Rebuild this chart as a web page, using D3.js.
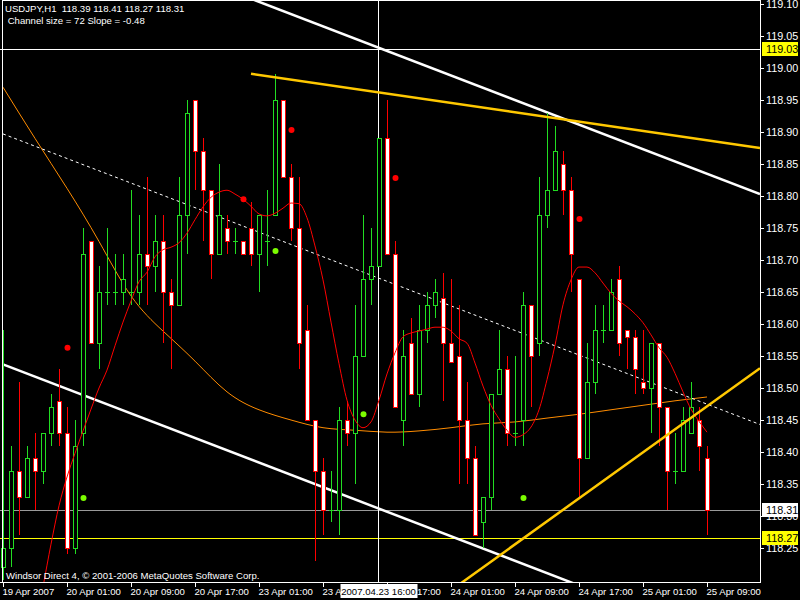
<!DOCTYPE html>
<html><head><meta charset="utf-8">
<script src="https://cdn.jsdelivr.net/npm/d3@7"></script>
<style>html,body{margin:0;padding:0;background:#000;}svg{display:block;}</style>
</head><body>
<svg id="c" width="800" height="600"></svg>
<script>
// ---- data (USDJPY H1) ----
const opens  = [118.22,118.25,118.37,118.33,118.39,118.37,118.43,118.48,118.43,118.25,118.43,118.73,118.57,118.65,118.65,118.65,118.65,118.65,118.71,118.69,118.73,118.65,118.63,118.77,118.95,118.87,118.81,118.71,118.75,118.73,118.73,118.75,118.71,118.73,118.77,118.95,118.83,118.75,118.59,118.45,118.37,118.31,118.31,118.45,118.43,118.55,118.67,118.69,118.89,118.71,118.45,118.57,118.49,118.59,118.63,118.64,118.57,118.55,118.45,118.39,118.29,118.33,118.49,118.53,118.43,118.45,118.63,118.57,118.77,118.81,118.85,118.81,118.67,118.39,118.51,118.59,118.59,118.67,118.59,118.58,118.51,118.50,118.57,118.47,118.37,118.37,118.43,118.45,118.39];
const highs  = [118.59,118.41,118.51,118.41,118.43,118.43,118.49,118.53,118.47,118.45,118.75,118.73,118.69,118.75,118.71,118.71,118.81,118.77,118.83,118.77,118.77,118.67,118.83,118.95,118.95,118.89,118.81,118.85,118.77,118.75,118.73,118.79,118.77,118.81,118.99,118.95,118.85,118.83,118.63,118.45,118.39,118.37,118.47,118.48,118.63,118.77,118.75,118.89,118.95,118.73,118.59,118.61,118.63,118.65,118.67,118.68,118.67,118.63,118.51,118.41,118.33,118.49,118.59,118.55,118.55,118.65,118.63,118.83,118.93,118.91,118.87,118.83,118.67,118.57,118.63,118.63,118.67,118.69,118.59,118.59,118.59,118.57,118.57,118.47,118.43,118.47,118.51,118.47,118.41];
const lows   = [118.20,118.22,118.27,118.33,118.31,118.35,118.41,118.41,118.24,118.24,118.41,118.57,118.53,118.63,118.63,118.63,118.63,118.63,118.63,118.65,118.57,118.53,118.63,118.71,118.81,118.73,118.67,118.71,118.71,118.71,118.71,118.69,118.65,118.69,118.77,118.83,118.73,118.53,118.45,118.23,118.27,118.29,118.27,118.41,118.35,118.55,118.63,118.69,118.71,118.47,118.41,118.49,118.47,118.57,118.61,118.48,118.54,118.35,118.35,118.27,118.25,118.31,118.49,118.41,118.41,118.41,118.47,118.55,118.75,118.81,118.77,118.65,118.33,118.39,118.49,118.57,118.59,118.55,118.53,118.49,118.49,118.43,118.41,118.31,118.35,118.37,118.43,118.37,118.27];
const closes = [118.25,118.37,118.33,118.39,118.37,118.43,118.47,118.43,118.25,118.41,118.71,118.57,118.65,118.65,118.65,118.67,118.65,118.71,118.69,118.73,118.65,118.63,118.77,118.93,118.87,118.81,118.71,118.77,118.73,118.73,118.71,118.71,118.77,118.73,118.95,118.83,118.75,118.57,118.45,118.37,118.31,118.31,118.45,118.43,118.55,118.67,118.69,118.89,118.71,118.47,118.55,118.49,118.59,118.63,118.65,118.57,118.54,118.45,118.39,118.27,118.33,118.49,118.53,118.43,118.43,118.63,118.55,118.77,118.81,118.87,118.81,118.71,118.39,118.51,118.59,118.59,118.65,118.57,118.58,118.53,118.50,118.57,118.47,118.37,118.37,118.45,118.47,118.41,118.31];

// smoothed red indicator, one value per bar starting at bar 5
const redStart = 5;
const redLine = [118.189,118.256,118.316,118.361,118.398,118.433,118.467,118.500,118.528,118.566,118.603,118.636,118.666,118.681,118.705,118.716,118.720,118.727,118.742,118.763,118.783,118.798,118.806,118.809,118.803,118.795,118.784,118.772,118.769,118.773,118.781,118.789,118.788,118.766,118.722,118.669,118.603,118.538,118.481,118.450,118.438,118.447,118.481,118.522,118.555,118.580,118.586,118.589,118.592,118.595,118.595,118.589,118.577,118.570,118.539,118.503,118.473,118.452,118.434,118.423,118.427,118.439,118.466,118.513,118.567,118.630,118.669,118.689,118.689,118.680,118.664,118.648,118.636,118.627,118.616,118.602,118.583,118.563,118.548,118.523,118.494,118.467,118.448,118.431];

// orange regression curve, read every 4 bars
const orangeBars = [0,4,8,12,16,20,24,28,32,36,40,44,48,52,56,60,64,68,72,76,80,84,88];
const orangeVals = [118.970,118.890,118.812,118.729,118.644,118.589,118.542,118.494,118.466,118.450,118.438,118.434,118.431,118.433,118.438,118.444,118.447,118.453,118.459,118.466,118.473,118.480,118.486];

// regression channel (mid line endpoints, half width)
const channelBars = [0, 94.625];
const channelMid  = [118.897, 118.443];
const channelHalf = 0.36;

// trend lines (gold)
const trendUpBars = [31, 94.625];
const trendUpVals = [118.991, 118.875];
const trendLoBars = [61.25, 94.625];
const trendLoVals = [118.231, 118.531];

// fractal-like dots
const redDotBars = [8, 30, 36, 49, 72];
const redDotVals = [118.563, 118.795, 118.903, 118.828, 118.764];
const greenDotBars = [10, 34, 45, 65];
const greenDotVals = [118.328, 118.714, 118.459, 118.328];

// price axis
const priceTicks = [119.10,119.05,119.00,118.95,118.90,118.85,118.80,118.75,118.70,118.65,118.60,118.55,118.50,118.45,118.40,118.35,118.30,118.25];
// time axis
const timeTickBars = [0,8,16,24,32,40,48,56,64,72,80,88];
const timeLabels = ["19 Apr 2007","20 Apr 01:00","20 Apr 09:00","20 Apr 17:00","23 Apr 01:00","23 Apr 09:00","23 Apr 17:00","24 Apr 01:00","24 Apr 09:00","24 Apr 17:00","25 Apr 01:00","25 Apr 09:00"];

const bidPrice = 118.31;
const hLinePrice = 118.265, hLineLabel = "118.27";
const crossPrice = 119.03, crossBar = 46.875, crossLabel = "2007.04.23 16:00";
const titleText = "USDJPY,H1  118.39 118.41 118.27 118.31";
const subText = " Channel size = 72 Slope = -0.48";
const footText = "Windsor Direct 4, \u00A9 2001-2006 MetaQuotes Software Corp.";

// ---- drawing ----
const svg = d3.select("#c");
const PR = 760, PB = 582;
const FONT = "'Liberation Sans', Arial, sans-serif";
const x = d3.scaleLinear().domain([0, 94.625]).range([3, PR]);
const y = d3.scaleLinear().domain([118.1969, 119.10625]).range([PB, 0]);

svg.append("rect").attr("width",800).attr("height",600).attr("fill","#000");
svg.append("defs").append("clipPath").attr("id","clip")
  .append("rect").attr("x",0).attr("y",0).attr("width",PR).attr("height",PB);
const plot = svg.append("g").attr("clip-path","url(#clip)");

// horizontal lines
plot.append("line").attr("x1",0).attr("x2",PR).attr("y1",Math.round(y(bidPrice))+0.5).attr("y2",Math.round(y(bidPrice))+0.5)
  .attr("stroke","#9a9a9a").attr("stroke-width",1);
plot.append("line").attr("x1",0).attr("x2",PR).attr("y1",Math.round(y(hLinePrice))+0.5).attr("y2",Math.round(y(hLinePrice))+0.5)
  .attr("stroke","#ffff00").attr("stroke-width",1);

// orange curve
const orangeData = orangeBars.map((b,i)=>[b, orangeVals[i]]);
plot.append("path").datum(orangeData)
  .attr("d", d3.line().x(d=>x(d[0])).y(d=>y(d[1])).curve(d3.curveNatural))
  .attr("fill","none").attr("stroke","#ff8c00").attr("stroke-width",1);

// channel
const chLine = d3.line().x(d=>x(d[0])).y(d=>y(d[1]));
const mid = channelBars.map((b,i)=>[b, channelMid[i]]);
plot.append("path").datum(mid).attr("d",chLine).attr("fill","none")
  .attr("stroke","#fff").attr("stroke-width",1).attr("stroke-dasharray","3,3");
[channelHalf, -channelHalf].forEach(off=>{
  plot.append("path").datum(mid.map(d=>[d[0], d[1]+off])).attr("d",chLine)
    .attr("fill","none").attr("stroke","#fff").attr("stroke-width",2.5);
});

// crosshair
const cx0 = Math.round(x(crossBar))+0.5, cy0 = Math.round(y(crossPrice))+0.5;
plot.append("line").attr("x1",cx0).attr("x2",cx0).attr("y1",0).attr("y2",PB).attr("stroke","#fff").attr("stroke-width",1);
plot.append("line").attr("x1",0).attr("x2",PR).attr("y1",cy0).attr("y2",cy0).attr("stroke","#fff").attr("stroke-width",1);

// candles
const BULL = "#22dd22", BEAR = "#ff0000";
const bars = opens.map((o,i)=>({i, o, h:highs[i], l:lows[i], c:closes[i]}));
const cg = plot.append("g").attr("shape-rendering","crispEdges");
bars.forEach(d=>{
  const cx = Math.round(x(d.i));
  const bull = d.c >= d.o;
  const col = bull ? BULL : BEAR;
  cg.append("line").attr("x1",cx+0.5).attr("x2",cx+0.5)
    .attr("y1",Math.round(y(d.h))).attr("y2",Math.round(y(d.l))).attr("stroke",col).attr("stroke-width",1);
  const yt = Math.round(y(Math.max(d.o,d.c))), yb = Math.round(y(Math.min(d.o,d.c)));
  if (yb - yt < 1) {
    cg.append("line").attr("x1",cx-2).attr("x2",cx+3).attr("y1",yt+0.5).attr("y2",yt+0.5).attr("stroke",col);
  } else {
    cg.append("rect").attr("x",cx-1.5).attr("y",yt+0.5).attr("width",4).attr("height",yb-yt)
      .attr("fill", bull ? "#000" : "#fff").attr("stroke",col).attr("stroke-width",1);
  }
});

// red indicator
const redData = redLine.map((v,k)=>[redStart+k, v]);
plot.append("path").datum(redData)
  .attr("d", d3.line().x(d=>x(d[0])).y(d=>y(d[1])).curve(d3.curveMonotoneX))
  .attr("fill","none").attr("stroke","#ff0000").attr("stroke-width",1);

// trend lines
[[trendUpBars,trendUpVals],[trendLoBars,trendLoVals]].forEach(([bs,vs])=>{
  // extend to plot edges along the same line
  const s = (vs[1]-vs[0])/(bs[1]-bs[0]);
  const pts = [[bs[0],vs[0]],[bs[1],vs[1]]];
  if (bs === trendLoBars) pts.unshift([bs[0]-5, vs[0]-5*s]);
  plot.append("path").datum(pts).attr("d",chLine).attr("fill","none")
    .attr("stroke","#ffc800").attr("stroke-width",2.5);
});

// dots
redDotBars.forEach((b,i)=>plot.append("circle").attr("cx",x(b)+0.5).attr("cy",y(redDotVals[i])).attr("r",3).attr("fill","#ff0000"));
greenDotBars.forEach((b,i)=>plot.append("circle").attr("cx",x(b)+0.5).attr("cy",y(greenDotVals[i])).attr("r",3).attr("fill","#7cfc00"));

// frame / axes
const ax = svg.append("g").attr("shape-rendering","crispEdges");
ax.append("line").attr("x1",2.5).attr("x2",2.5).attr("y1",0).attr("y2",PB).attr("stroke","#fff");
ax.append("line").attr("x1",2).attr("x2",PR).attr("y1",0.5).attr("y2",0.5).attr("stroke","#fff");
ax.append("line").attr("x1",PR+0.5).attr("x2",PR+0.5).attr("y1",0).attr("y2",PB+1).attr("stroke","#fff");
ax.append("line").attr("x1",0).attr("x2",PR+1).attr("y1",PB+0.5).attr("y2",PB+0.5).attr("stroke","#fff");

// price axis ticks & labels
priceTicks.forEach(p=>{
  const yy = Math.round(y(p))+0.5;
  ax.append("line").attr("x1",PR).attr("x2",PR+4).attr("y1",yy).attr("y2",yy).attr("stroke","#fff");
  svg.append("text").attr("x",PR+6).attr("y",yy).attr("dy","0.35em").attr("fill","#fff")
    .attr("font-family",FONT).attr("font-size","10.8px").text(p.toFixed(2));
});
// time axis
timeTickBars.forEach((b,i)=>{
  const xx = Math.round(x(b))+0.5;
  ax.append("line").attr("x1",xx).attr("x2",xx).attr("y1",PB).attr("y2",PB+5).attr("stroke","#fff");
  svg.append("text").attr("x",xx-1).attr("y",595).attr("fill","#fff")
    .attr("font-family",FONT).attr("font-size","9.6px").text(timeLabels[i]);
});

// price label boxes
function priceBox(p, label, bg) {
  const yy = Math.round(y(p));
  svg.append("rect").attr("x",PR+2).attr("y",yy-7).attr("width",36).attr("height",14).attr("fill",bg);
  svg.append("text").attr("x",PR+6).attr("y",yy).attr("dy","0.35em").attr("fill","#000")
    .attr("font-family",FONT).attr("font-size","10.8px").text(label);
}
priceBox(bidPrice, bidPrice.toFixed(2), "#ffffff");
priceBox(hLinePrice, hLineLabel, "#ffff00");
priceBox(crossPrice, crossPrice.toFixed(2), "#ffff00");

// crosshair date box
svg.append("rect").attr("x",cx0-38).attr("y",584).attr("width",77).attr("height",14).attr("fill","#fff");
svg.append("text").attr("x",cx0).attr("y",595).attr("text-anchor","middle").attr("fill","#000")
  .attr("font-family",FONT).attr("font-size","9.6px").text(crossLabel);

// texts
svg.append("text").attr("x",5).attr("y",12).attr("fill","#fff").attr("font-family",FONT).attr("font-size","9.6px")
  .attr("xml:space","preserve").style("white-space","pre").text(titleText);
svg.append("text").attr("x",5).attr("y",24).attr("fill","#fff").attr("font-family",FONT).attr("font-size","9.6px")
  .style("white-space","pre").text(subText);
svg.append("text").attr("x",6).attr("y",579).attr("fill","#fff").attr("font-family",FONT).attr("font-size","9.6px")
  .text(footText);
</script>
</body></html>
